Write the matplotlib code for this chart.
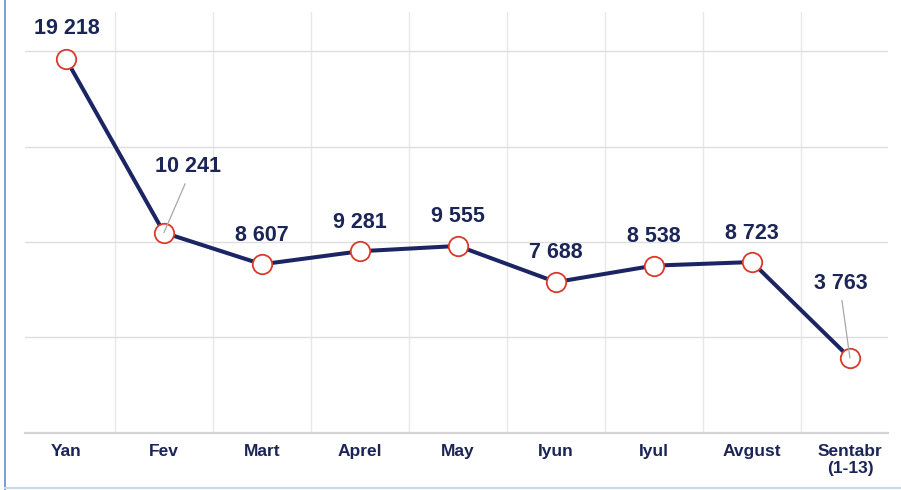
import matplotlib.pyplot as plt
from matplotlib.lines import Line2D

# --- data ---
months = ["Yan", "Fev", "Mart", "Aprel", "May", "Iyun", "Iyul", "Avgust", "Sentabr\n(1-13)"]
values = [19218, 10241, 8607, 9281, 9555, 7688, 8538, 8723, 3763]
labels = ["19 218", "10 241", "8 607", "9 281", "9 555", "7 688", "8 538", "8 723", "3 763"]
# label offsets in pixels (dx, dy) and whether a leader line is drawn
offsets = [(1, 31), (24, 66), (0, 29), (0, 29), (0, 29), (0, 30), (0, 29), (0, 29), (-9, 75)]
leaders = [False, True, False, False, False, False, False, False, True]

NAVY = "#1c2563"
TEXT = "#1b2556"
RED = "#d93a2c"

plt.rcParams["font.family"] = ["Liberation Sans", "DejaVu Sans"]

fig = plt.figure(figsize=(9.01, 4.90), dpi=100)
ax = fig.add_axes([25 / 901, (490 - 433.3) / 490, (887.7 - 25) / 901, (433.3 - 12) / 490])

x = list(range(len(months)))
ax.plot(x, values, color=NAVY, lw=2.9, marker="o", ms=14,
        mfc="white", mec=RED, mew=1.3, zorder=2, clip_on=False)

for xi, v, lab, (dx, dy), lead in zip(x, values, labels, offsets, leaders):
    kw = {}
    if lead:
        kw["arrowprops"] = dict(arrowstyle="-", color="#a8a8a8", lw=0.9,
                                relpos=(0.5, 0), shrinkA=3, shrinkB=0)
    ax.annotate(lab, (xi, v), xytext=(dx, dy), textcoords="offset pixels",
                ha="center", va="center", fontsize=15.5, fontweight="bold",
                color=TEXT, zorder=3, annotation_clip=False, **kw)

ax.set_xlim(-0.418, 8.385)
ax.set_ylim(-129, 21648)

# grid
for gx in [i + 0.5 for i in range(8)]:
    ax.axvline(gx, color="#e8e8e8", lw=1, zorder=0)
for gy in [4833, 9775, 14685, 19647]:
    ax.axhline(gy, color="#dedede", lw=1, zorder=0)

ax.set_xticks(x)
ax.set_xticklabels(months, fontsize=12.5, fontweight="bold", color=TEXT, va="top",
                   linespacing=1.1)
ax.tick_params(axis="x", length=0, pad=8)
ax.set_yticks([])

for s in ["left", "right", "top"]:
    ax.spines[s].set_visible(False)
ax.spines["bottom"].set_color("#d4d4d4")
ax.spines["bottom"].set_linewidth(1.6)

# slide frame
fig.add_artist(Line2D([5 / 901, 5 / 901], [0, 1], color="#5a8fd4", lw=1.2))
fig.add_artist(Line2D([5 / 901, 1], [2 / 490, 2 / 490], color="#c9d8ec", lw=1.5))

fig.savefig("out.png", dpi=100)
